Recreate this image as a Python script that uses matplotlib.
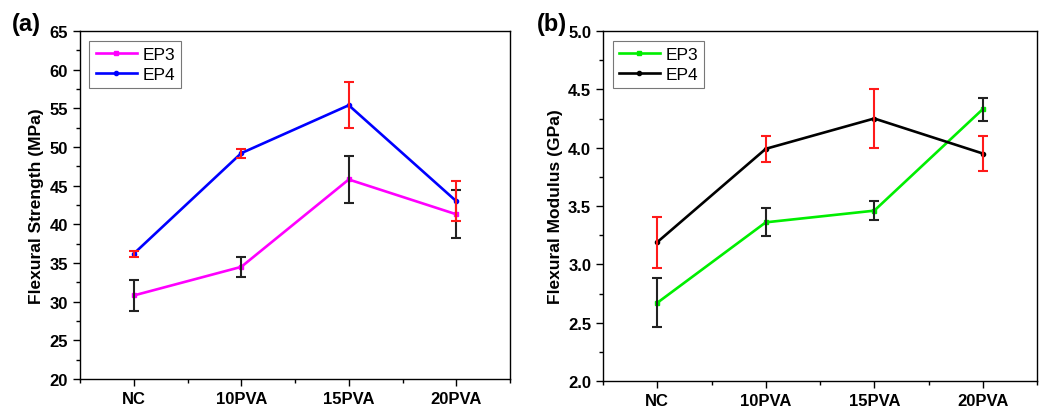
import matplotlib
matplotlib.use("Agg")
import matplotlib.pyplot as plt
from matplotlib.ticker import MultipleLocator
import numpy as np

plt.rcParams['font.family'] = ['Liberation Sans', 'DejaVu Sans']

categories = ['NC', '10PVA', '15PVA', '20PVA']

# (a) flexural strength, MPa
strength_ep3 = [30.8, 34.5, 45.8, 41.3]
strength_ep3_err = [2.0, 1.3, 3.1, 3.1]
strength_ep4 = [36.2, 49.2, 55.4, 43.0]
strength_ep4_err = [0.4, 0.6, 3.0, 2.6]

# (b) flexural modulus, GPa
modulus_ep3 = [2.67, 3.36, 3.46, 4.33]
modulus_ep3_err = [0.21, 0.12, 0.08, 0.10]
modulus_ep4 = [3.19, 3.99, 4.25, 3.95]
modulus_ep4_err = [0.22, 0.11, 0.25, 0.15]

x = np.arange(len(categories))

fig = plt.figure(figsize=(10.43, 4.10), dpi=100)
ax1 = fig.add_axes([80 / 1043, 1 - 380 / 410, 430 / 1043, 348 / 410])
ax2 = fig.add_axes([603 / 1043, 1 - 382 / 410, 434 / 1043, 350 / 410])


def draw(ax, y3, e3, y4, e4, c3, c4, ylim, major, minor, ylabel, fmt):
    ax.plot(x, y3, color=c3, lw=1.9, marker='s', ms=3, label='EP3', zorder=3)
    ax.plot(x, y4, color=c4, lw=1.9, marker='o', ms=3, label='EP4', zorder=3)
    ax.errorbar(x, y3, yerr=e3, fmt='none', ecolor='#222222', elinewidth=1.5,
                capsize=3.5, capthick=1.5, zorder=4)
    ax.errorbar(x, y4, yerr=e4, fmt='none', ecolor='#ff1a1a', elinewidth=1.5,
                capsize=3.5, capthick=1.5, zorder=4)
    ax.set_xlim(-0.5, 3.5)
    ax.set_ylim(*ylim)
    ax.set_xticks(x)
    ax.set_xticklabels(categories, fontweight='bold', fontsize=12)
    ax.xaxis.set_minor_locator(MultipleLocator(0.5))
    ax.yaxis.set_major_locator(MultipleLocator(major))
    ax.yaxis.set_minor_locator(MultipleLocator(minor))
    ax.yaxis.set_major_formatter(plt.FormatStrFormatter(fmt))
    for lab in ax.get_yticklabels():
        lab.set_fontweight('bold')
        lab.set_fontsize(12)
    ax.tick_params(which='major', direction='out', length=5, width=1)
    ax.tick_params(which='minor', direction='out', length=3, width=1)
    ax.set_ylabel(ylabel, fontweight='bold', fontsize=12.5, labelpad=4)
    for s in ax.spines.values():
        s.set_linewidth(1)
    leg = ax.legend(loc='upper left', fontsize=12.5, fancybox=False,
                    edgecolor='#555555', handlelength=2.4, borderpad=0.35,
                    labelspacing=0.3, handletextpad=0.3, borderaxespad=0,
                    bbox_to_anchor=(0.022, 0.972))
    leg.get_frame().set_linewidth(0.8)


draw(ax1, strength_ep3, strength_ep3_err, strength_ep4, strength_ep4_err,
     '#ff00ff', '#0000ff', (20, 65), 5, 2.5, 'Flexural Strength (MPa)', '%d')
draw(ax2, modulus_ep3, modulus_ep3_err, modulus_ep4, modulus_ep4_err,
     '#00ee00', '#000000', (2.0, 5.0), 0.5, 0.25, 'Flexural Modulus (GPa)', '%.1f')

fig.text(12 / 1043, 1 - 24 / 410, '(a)', fontsize=17, fontweight='bold', va='center')
fig.text(537 / 1043, 1 - 24 / 410, '(b)', fontsize=17, fontweight='bold', va='center')

fig.savefig('out.png', dpi=100)
